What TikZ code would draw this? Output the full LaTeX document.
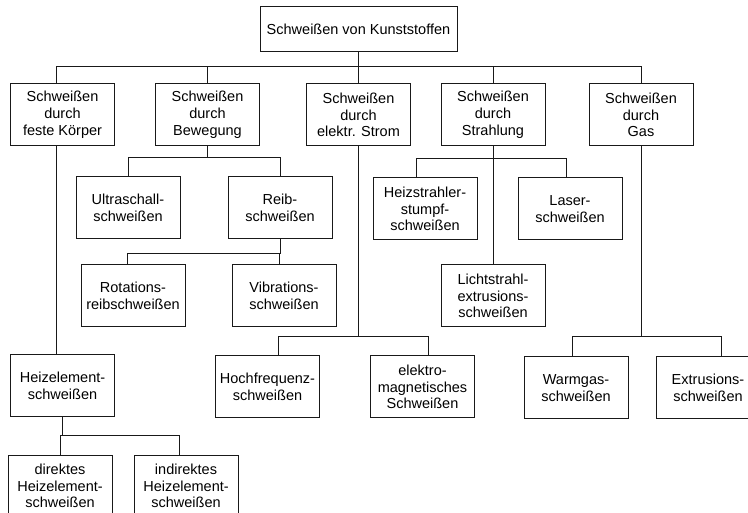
\documentclass[tikz,border=0pt]{standalone}
\usepackage{fontspec}
\setmainfont{Liberation Sans}
\usetikzlibrary{positioning}
\tikzset{
    font=\fontsize{14.5}{16.8}\selectfont,
    weld_box/.style={
        rectangle,
        draw=black!90,
        line width=1pt,
        minimum width=104pt,
        minimum height=62pt,
        inner sep=2pt,
        align=center
    },
    weld_root/.style={
        weld_box,
        minimum width=197pt,
        minimum height=45pt
    },
    weld_line/.style={
        draw=black!90,
        line width=1pt
    }
}

\begin{document}
\begin{tikzpicture}
\useasboundingbox (0,0) rectangle (748pt,-513pt);

% Root
\node[weld_root] (Root) at (358.5pt,-29.5pt) {Schweißen von Kunststoffen};

% First level
\node[weld_box, below=31pt of Root] (Current) {Schweißen\\durch\\elektr. Strom};
\node[weld_box, left=46pt of Current] (Motion) {Schweißen\\durch\\Bewegung};
\node[weld_box, left=40pt of Motion] (Solid) {Schweißen\\durch\\feste Körper};
\node[weld_box, right=29.5pt of Current] (Radiation) {Schweißen\\durch\\Strahlung};
\node[weld_box, right=43pt of Radiation] (Gas) {Schweißen\\durch\\Gas};

% Motion
\node[weld_box, below=30pt of Motion, xshift=-79.5pt] (Ultra) {Ultraschall-\\schweißen};
\node[weld_box, right=47pt of Ultra] (Friction) {Reib-\\schweißen};
\node[weld_box, below=25pt of Ultra, xshift=5pt] (Rotation) {Rotations-\\reibschweißen};
\node[weld_box, right=46pt of Rotation] (Vibration) {Vibrations-\\schweißen};

% Radiation
\node[weld_box, below=31pt of Radiation, xshift=-68pt] (HeatRad) {Heizstrahler-\\stumpf-\\schweißen};
\node[weld_box, right=40pt of HeatRad] (Laser) {Laser-\\schweißen};
\node[weld_box, below=118pt of Radiation] (LightBeam) {Lichtstrahl-\\extrusions-\\schweißen};

% Solid body
\node[weld_box, below=208pt of Solid] (HotPlate) {Heizelement-\\schweißen};
\node[weld_box, below=37pt of HotPlate, xshift=-2.5pt] (Direct) {direktes\\Heizelement-\\schweißen};
\node[weld_box, right=21pt of Direct] (Indirect) {indirektes\\Heizelement-\\schweißen};

% Current
\node[weld_box, below=209pt of Current, xshift=-91pt] (HighFreq) {Hochfrequenz-\\schweißen};
\node[weld_box, right=50pt of HighFreq] (ElMag) {elektro-\\magnetisches\\Schweißen};

% Gas
\node[weld_box, below=210pt of Gas, xshift=-65pt] (HotGas) {Warmgas-\\schweißen};
\node[weld_box, right=27pt of HotGas] (Extrusion) {Extrusions-\\schweißen};

% Edges
\draw[weld_line] (Root.south) -- ++(0,-14pt) -| ([xshift=-6pt]Solid.north);
\draw[weld_line] (Root.south) -- ++(0,-14pt) -| (Motion.north);
\draw[weld_line] (Root.south) -- (Current.north);
\draw[weld_line] (Root.south) -- ++(0,-14pt) -| (Radiation.north);
\draw[weld_line] (Root.south) -- ++(0,-14pt) -| (Gas.north);

\draw[weld_line] (Motion.south) -- ++(0,-11pt) -| (Ultra.north);
\draw[weld_line] (Motion.south) -- ++(0,-11pt) -| (Friction.north);
\draw[weld_line] (Friction.south) -- ++(0,-14pt) -| ([xshift=-6pt]Rotation.north);
\draw[weld_line] (Friction.south) -- ++(0,-14pt) -| ([xshift=-5pt]Vibration.north);

\draw[weld_line] (Radiation.south) -- ++(0,-12pt) -| ([xshift=-9pt]HeatRad.north);
\draw[weld_line] (Radiation.south) -- ++(0,-12pt) -| ([xshift=-4pt]Laser.north);
\draw[weld_line] (Radiation) -- (LightBeam);

\draw[weld_line] ([xshift=-6pt]Solid.south) -- ([xshift=-6pt]HotPlate.north);
\draw[weld_line] (HotPlate.south) -- ++(0,-18pt) -| (Direct.north);
\draw[weld_line] (HotPlate.south) -- ++(0,-18pt) -| ([xshift=-7pt]Indirect.north);

\draw[weld_line] (Current.south) -- ++(0,-190pt) -| ([xshift=11pt]HighFreq.north);
\draw[weld_line] (Current.south) -- ++(0,-190pt) -| ([xshift=6pt]ElMag.north);

\draw[weld_line] (Gas.south) -- ++(0,-190pt) -| ([xshift=-4pt]HotGas.north);
\draw[weld_line] (Gas.south) -- ++(0,-190pt) -| ([xshift=13pt]Extrusion.north);

\end{tikzpicture}
\end{document}
